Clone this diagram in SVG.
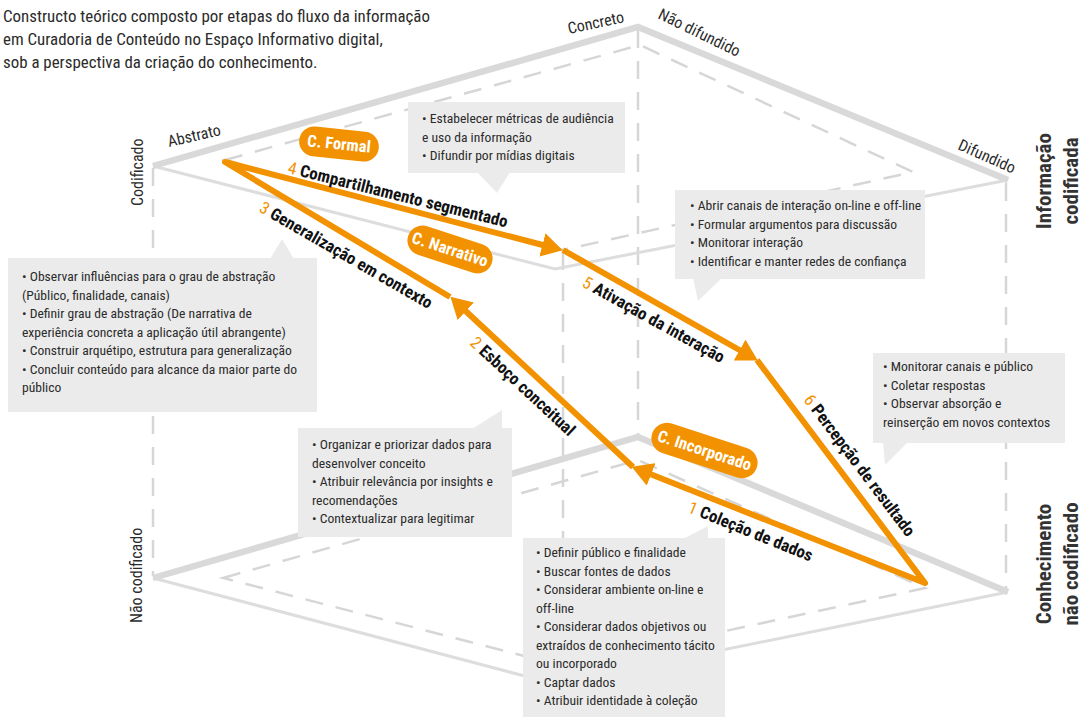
<svg xmlns="http://www.w3.org/2000/svg" width="1086" height="717" viewBox="0 0 1086 717">
<defs>
<style>
text { font-family: "Liberation Sans Narrow","Roboto Condensed","DejaVu Sans Condensed","Roboto",sans-serif; }
.title { font-size:16.9px; fill:#2b2b2b; }
.ax { font-size:16px; fill:#2b2b2b; }
.axb { font-size:21px; font-weight:bold; fill:#333; }
.b { font-size:13.6px; fill:#2b2b2b; }
.lbl { font-size:17px; font-weight:bold; fill:#111; }
.num { fill:#f39200; font-weight:normal; }
.pt { font-size:16.5px; font-weight:bold; fill:#fff; text-anchor:middle; }
.pill { fill:#f39200; }
.box { fill:#ebebeb; }
.thick { fill:none; stroke:#d9d9d9; stroke-width:6.5; }
.thin { fill:none; stroke:#dddddd; stroke-width:3; }
.dash { fill:none; stroke:#d6d6d6; stroke-width:2.5; stroke-dasharray:18 13; }
.flow { fill:none; stroke:#f39200; stroke-width:6; stroke-linejoin:round; marker-end:url(#ah); }
</style>
<marker id="ah" markerUnits="userSpaceOnUse" markerWidth="22" markerHeight="24" refX="12" refY="12" orient="auto"><path d="M0,0 L21,12 L0,24 z" fill="#f39200"/></marker>
</defs>
<rect width="1086" height="717" fill="#fff"/>

<g id="title">
<text class="title" x="3" y="22">Constructo teórico composto por etapas do fluxo da informação</text>
<text class="title" x="3" y="45">em Curadoria de Conteúdo no Espaço Informativo digital,</text>
<text class="title" x="3" y="68">sob a perspectiva da criação do conhecimento.</text>
</g>

<g id="cube">
<line x1="153" y1="168" x2="153" y2="576" class="dash"/>
<line x1="638" y1="30" x2="638" y2="437" class="dash"/>
<line x1="1006" y1="183" x2="1006" y2="590" class="dash"/>
<line x1="563" y1="252" x2="563" y2="666" class="dash"/>
<path d="M225,160 L640,45 L913,172 L563,250 Z" class="dash"/>
<path d="M223,578 L638,460 L925,588 L563,666 Z" class="dash"/>
<path d="M153,166 L555,269 L1008,180" class="thin"/>
<path d="M153,578 L555,684 L1008,592" class="thin"/>
<path d="M153,166 L638,27 L1008,180" class="thick"/>
<path d="M153,578 L638,437 L1008,592" class="thick"/>
</g>

<g id="axis-labels">
<text class="ax" transform="translate(169,147) rotate(-13)">Abstrato</text>
<text class="ax" transform="translate(569,34) rotate(-12)">Concreto</text>
<text class="ax" transform="translate(657,18) rotate(26)">Não difundido</text>
<text class="ax" transform="translate(957,149) rotate(24)">Difundido</text>
<text class="ax" transform="translate(143,206) rotate(-90)">Codificado</text>
<text class="ax" transform="translate(142,623) rotate(-90)">Não codificado</text>
<text class="axb" text-anchor="middle" transform="translate(1051,181) rotate(-90)">Informação</text>
<text class="axb" text-anchor="middle" transform="translate(1078,181) rotate(-90)">codificada</text>
<text class="axb" text-anchor="middle" transform="translate(1051,564) rotate(-90)">Conhecimento</text>
<text class="axb" text-anchor="middle" transform="translate(1078,564) rotate(-90)">não codificado</text>
</g>

<g id="box-compartilhamento">
<rect class="box" x="408" y="102" width="217" height="71"/>
<polygon class="box" points="477,172 510,172 497,193"/>
<text class="b" x="422" y="123">• Estabelecer métricas de audiência</text>
<text class="b" x="422" y="141.5">e uso da informação</text>
<text class="b" x="422" y="160">• Difundir por mídias digitais</text>
</g>

<g id="box-ativacao">
<rect class="box" x="675" y="190" width="250" height="89"/>
<polygon class="box" points="693,278 722,278 698,301"/>
<text class="b" x="690" y="210">• Abrir canais de interação on-line e off-line</text>
<text class="b" x="690" y="228.7">• Formular argumentos para discussão</text>
<text class="b" x="690" y="247.4">• Monitorar interação</text>
<text class="b" x="690" y="266">• Identificar e manter redes de confiança</text>
</g>

<g id="box-generalizacao">
<rect class="box" x="8" y="258" width="309" height="154"/>
<polygon class="box" points="270,259 282,239 294,259"/>
<text class="b" x="22" y="281">• Observar influências para o grau de abstração</text>
<text class="b" x="22" y="299.5">(Público, finalidade, canais)</text>
<text class="b" x="22" y="318">• Definir grau de abstração (De narrativa de</text>
<text class="b" x="22" y="336.5">experiência concreta a aplicação útil abrangente)</text>
<text class="b" x="22" y="355">• Construir arquétipo, estrutura para generalização</text>
<text class="b" x="22" y="373.5">• Concluir conteúdo para alcance da maior parte do</text>
<text class="b" x="22" y="392">público</text>
</g>

<g id="box-esboco">
<rect class="box" x="298" y="428" width="214" height="109"/>
<polygon class="box" points="472,429 502,410 502,429"/>
<text class="b" x="312" y="449">• Organizar e priorizar dados para</text>
<text class="b" x="312" y="467.5">desenvolver conceito</text>
<text class="b" x="312" y="486">• Atribuir relevância por insights e</text>
<text class="b" x="312" y="504.5">recomendações</text>
<text class="b" x="312" y="523">• Contextualizar para legitimar</text>
</g>

<g id="box-colecao">
<rect class="box" x="523" y="538" width="202" height="179"/>
<polygon class="box" points="683,539 708,526 708,539"/>
<text class="b" x="536" y="557">• Definir público e finalidade</text>
<text class="b" x="536" y="575.5">• Buscar fontes de dados</text>
<text class="b" x="536" y="594">• Considerar ambiente on-line e</text>
<text class="b" x="536" y="612.5">off-line</text>
<text class="b" x="536" y="631">• Considerar dados objetivos ou</text>
<text class="b" x="536" y="649.5">extraídos de conhecimento tácito</text>
<text class="b" x="536" y="668">ou incorporado</text>
<text class="b" x="536" y="686.5">• Captar dados</text>
<text class="b" x="536" y="705">• Atribuir identidade à coleção</text>
</g>

<g id="box-percepcao">
<rect class="box" x="873" y="353" width="192" height="90"/>
<polygon class="box" points="883,442 885,465 908,442"/>
<text class="b" x="883" y="371">• Monitorar canais e público</text>
<text class="b" x="883" y="389.5">• Coletar respostas</text>
<text class="b" x="883" y="408">• Observar absorção e</text>
<text class="b" x="883" y="426.5">reinserção em novos contextos</text>
</g>

<g id="connectors">
<path id="flow-6-1" class="flow" d="M757,360 L925,583 L640,470"/>
<path id="flow-2" class="flow" d="M633,467 L457,303"/>
<path id="flow-3-4" class="flow" d="M450,297 L225,162 L554,248"/>
<path id="flow-5" class="flow" d="M563,250 L750,356"/>
</g>

<g id="flow-labels">
<text class="lbl" transform="translate(687,512) rotate(22)"><tspan class="num">1</tspan> Coleção de dados</text>
<text class="lbl" transform="translate(469,344) rotate(43)"><tspan class="num">2</tspan> Esboço conceitual</text>
<text class="lbl" transform="translate(258,211) rotate(30)"><tspan class="num">3</tspan> Generalização em contexto</text>
<text class="lbl" transform="translate(287,173) rotate(14)"><tspan class="num">4</tspan> Compartilhamento segmentado</text>
<text class="lbl" transform="translate(581,286) rotate(29)"><tspan class="num">5</tspan> Ativação da interação</text>
<text class="lbl" transform="translate(803,400) rotate(53)"><tspan class="num">6</tspan> Percepção de resultado</text>
</g>

<g id="pill-formal" transform="translate(339,144) rotate(6)">
<rect class="pill" x="-40" y="-15" width="80" height="30" rx="15"/>
<text class="pt" x="0" y="5.5">C. Formal</text>
</g>
<g id="pill-narrativo" transform="translate(450,249.5) rotate(18)">
<rect class="pill" x="-44" y="-15" width="88" height="30" rx="15"/>
<text class="pt" x="0" y="5.5">C. Narrativo</text>
</g>
<g id="pill-incorporado" transform="translate(704.5,450.5) rotate(18)">
<rect class="pill" x="-55" y="-15.5" width="110" height="31" rx="15.5"/>
<text class="pt" x="0" y="5.5">C. Incorporado</text>
</g>
</svg>
